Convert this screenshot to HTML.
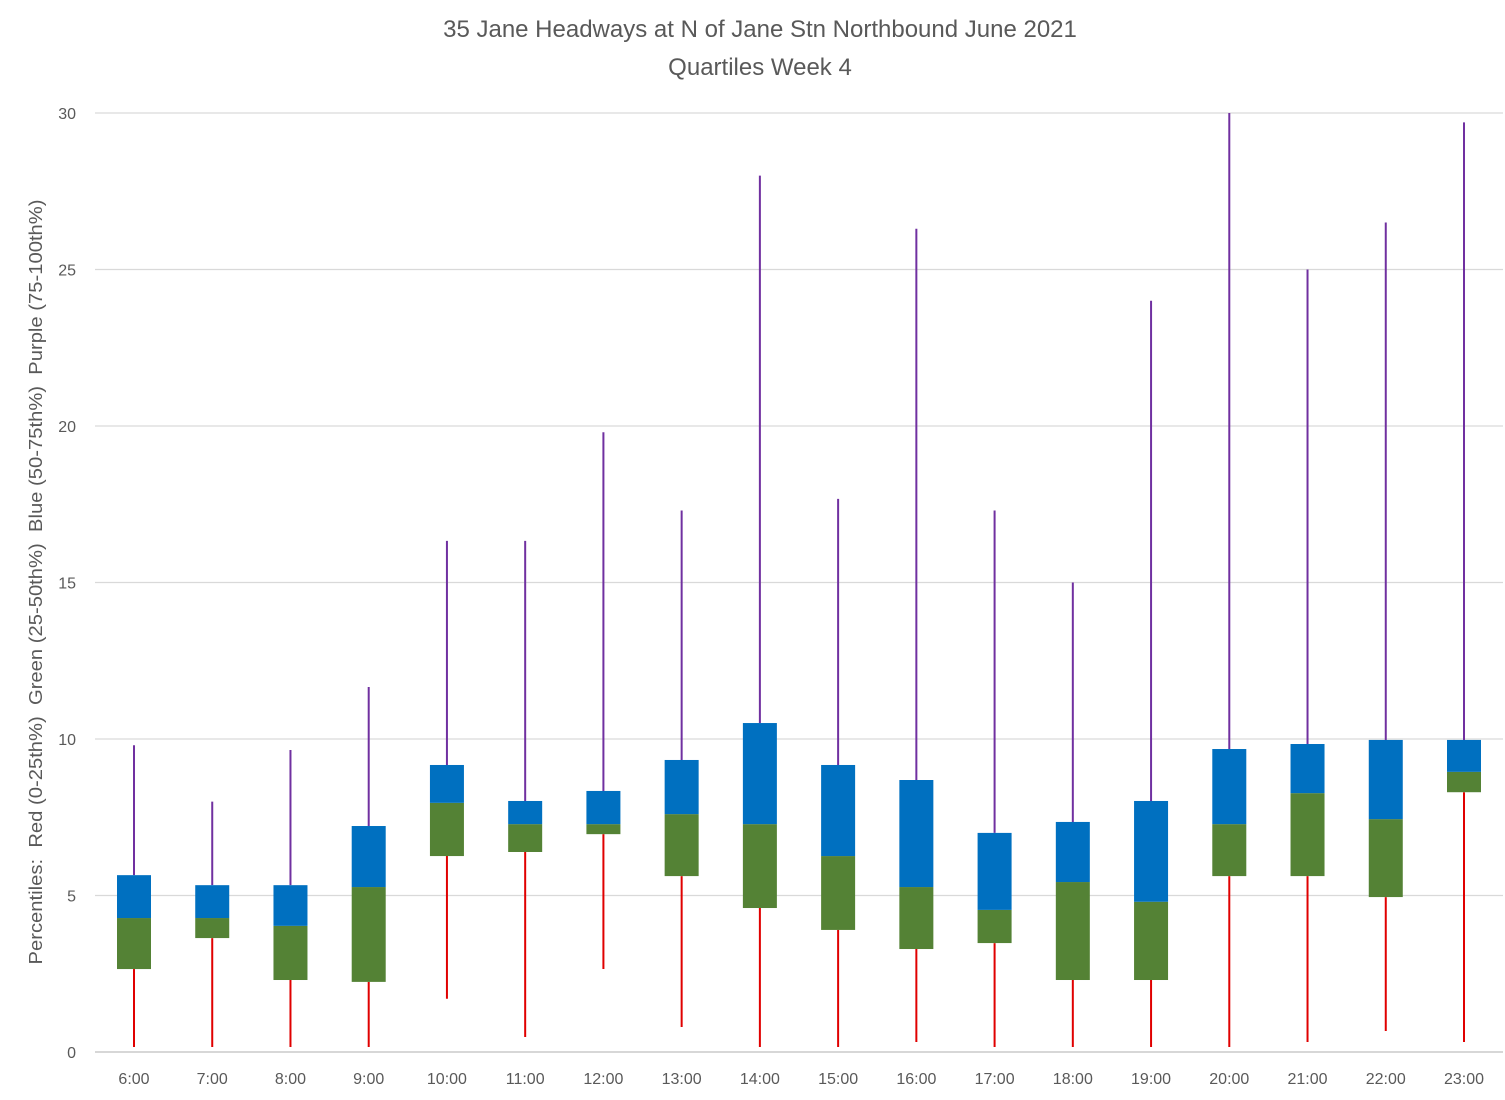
<!DOCTYPE html>
<html><head><meta charset="utf-8"><style>
body{margin:0;background:#fff;}
svg text{font-family:"Liberation Sans",sans-serif;}
</style></head><body>
<svg id="chart" width="1505" height="1095" xmlns="http://www.w3.org/2000/svg">
<text x="760" y="37" text-anchor="middle" font-size="24" fill="#595959">35 Jane Headways at N of Jane Stn Northbound June 2021</text>
<text x="760" y="75" text-anchor="middle" font-size="24" fill="#595959">Quartiles Week 4</text>
<text transform="translate(42,582) rotate(-90)" text-anchor="middle" font-size="18" textLength="765" lengthAdjust="spacingAndGlyphs" fill="#595959" style="white-space:pre" xml:space="preserve">Percentiles:  Red (0-25th%)  Green (25-50th%)  Blue (50-75th%)  Purple (75-100th%)</text>
<g id="grid"></g><g id="marks"></g><g id="labels"></g>
</svg>
<script>
const categories=["6:00","7:00","8:00","9:00","10:00","11:00","12:00","13:00","14:00","15:00","16:00","17:00","18:00","19:00","20:00","21:00","22:00","23:00"];
const minVals=[0.16,0.16,0.16,0.16,1.7,0.48,2.65,0.8,0.16,0.16,0.32,0.16,0.16,0.16,0.16,0.32,0.67,0.32];
const q1Vals=[2.65,3.64,2.3,2.24,6.26,6.39,6.96,5.62,4.6,3.9,3.29,3.48,2.3,2.3,5.62,5.62,4.95,8.3];
const medVals=[4.28,4.28,4.03,5.27,7.96,7.28,7.28,7.6,7.28,6.26,5.27,4.54,5.43,4.8,7.28,8.27,7.44,8.95];
const q3Vals=[5.65,5.33,5.33,7.22,9.17,8.02,8.34,9.33,10.51,9.17,8.69,7.0,7.35,8.02,9.68,9.84,9.97,9.97];
const maxVals=[9.8,8.0,9.65,11.66,16.33,16.33,19.8,17.3,28.0,17.67,26.3,17.3,15.0,24.0,30,25.0,26.5,29.7];
const yTicks=[0,5,10,15,20,25,30];
const NS="http://www.w3.org/2000/svg";
const y=v=>1052-v*(939/30);
const x=i=>134+i*(1330/17);
function mk(tag,attrs,parent){const e=document.createElementNS(NS,tag);for(const k in attrs)e.setAttribute(k,attrs[k]);document.getElementById(parent).appendChild(e);return e;}
yTicks.forEach(t=>{
  const l=mk('line',{x1:95,x2:1503,y1:y(t),y2:y(t),stroke:t===0?'#bfbfbf':'#d9d9d9','stroke-width':1.3},'grid');
  
  
  const tx=mk('text',{x:76,y:y(t)+6,'text-anchor':'end','font-size':16,fill:'#595959'},'labels');
  tx.textContent=t;
  
  
});
categories.forEach((c,i)=>{
  const cx=x(i),w=34;
  const lo=mk('line',{x1:cx,x2:cx,y1:y(minVals[i]),y2:y(q1Vals[i]),stroke:'#e00000','stroke-width':2},'marks');
  
  
  const hi=mk('line',{x1:cx,x2:cx,y1:y(q3Vals[i]),y2:y(maxVals[i]),stroke:'#7030a0','stroke-width':2},'marks');
  
  
  const g=mk('rect',{x:cx-w/2,width:w,y:y(medVals[i]),height:y(q1Vals[i])-y(medVals[i]),fill:'#548235'},'marks');
  
  
  const b=mk('rect',{x:cx-w/2,width:w,y:y(q3Vals[i]),height:y(medVals[i])-y(q3Vals[i]),fill:'#0070c0'},'marks');
  
  
  const tx=mk('text',{x:cx,y:1084,'text-anchor':'middle','font-size':16,fill:'#595959'},'labels');
  tx.textContent=c;
  
  
});
</script>
</body></html>
